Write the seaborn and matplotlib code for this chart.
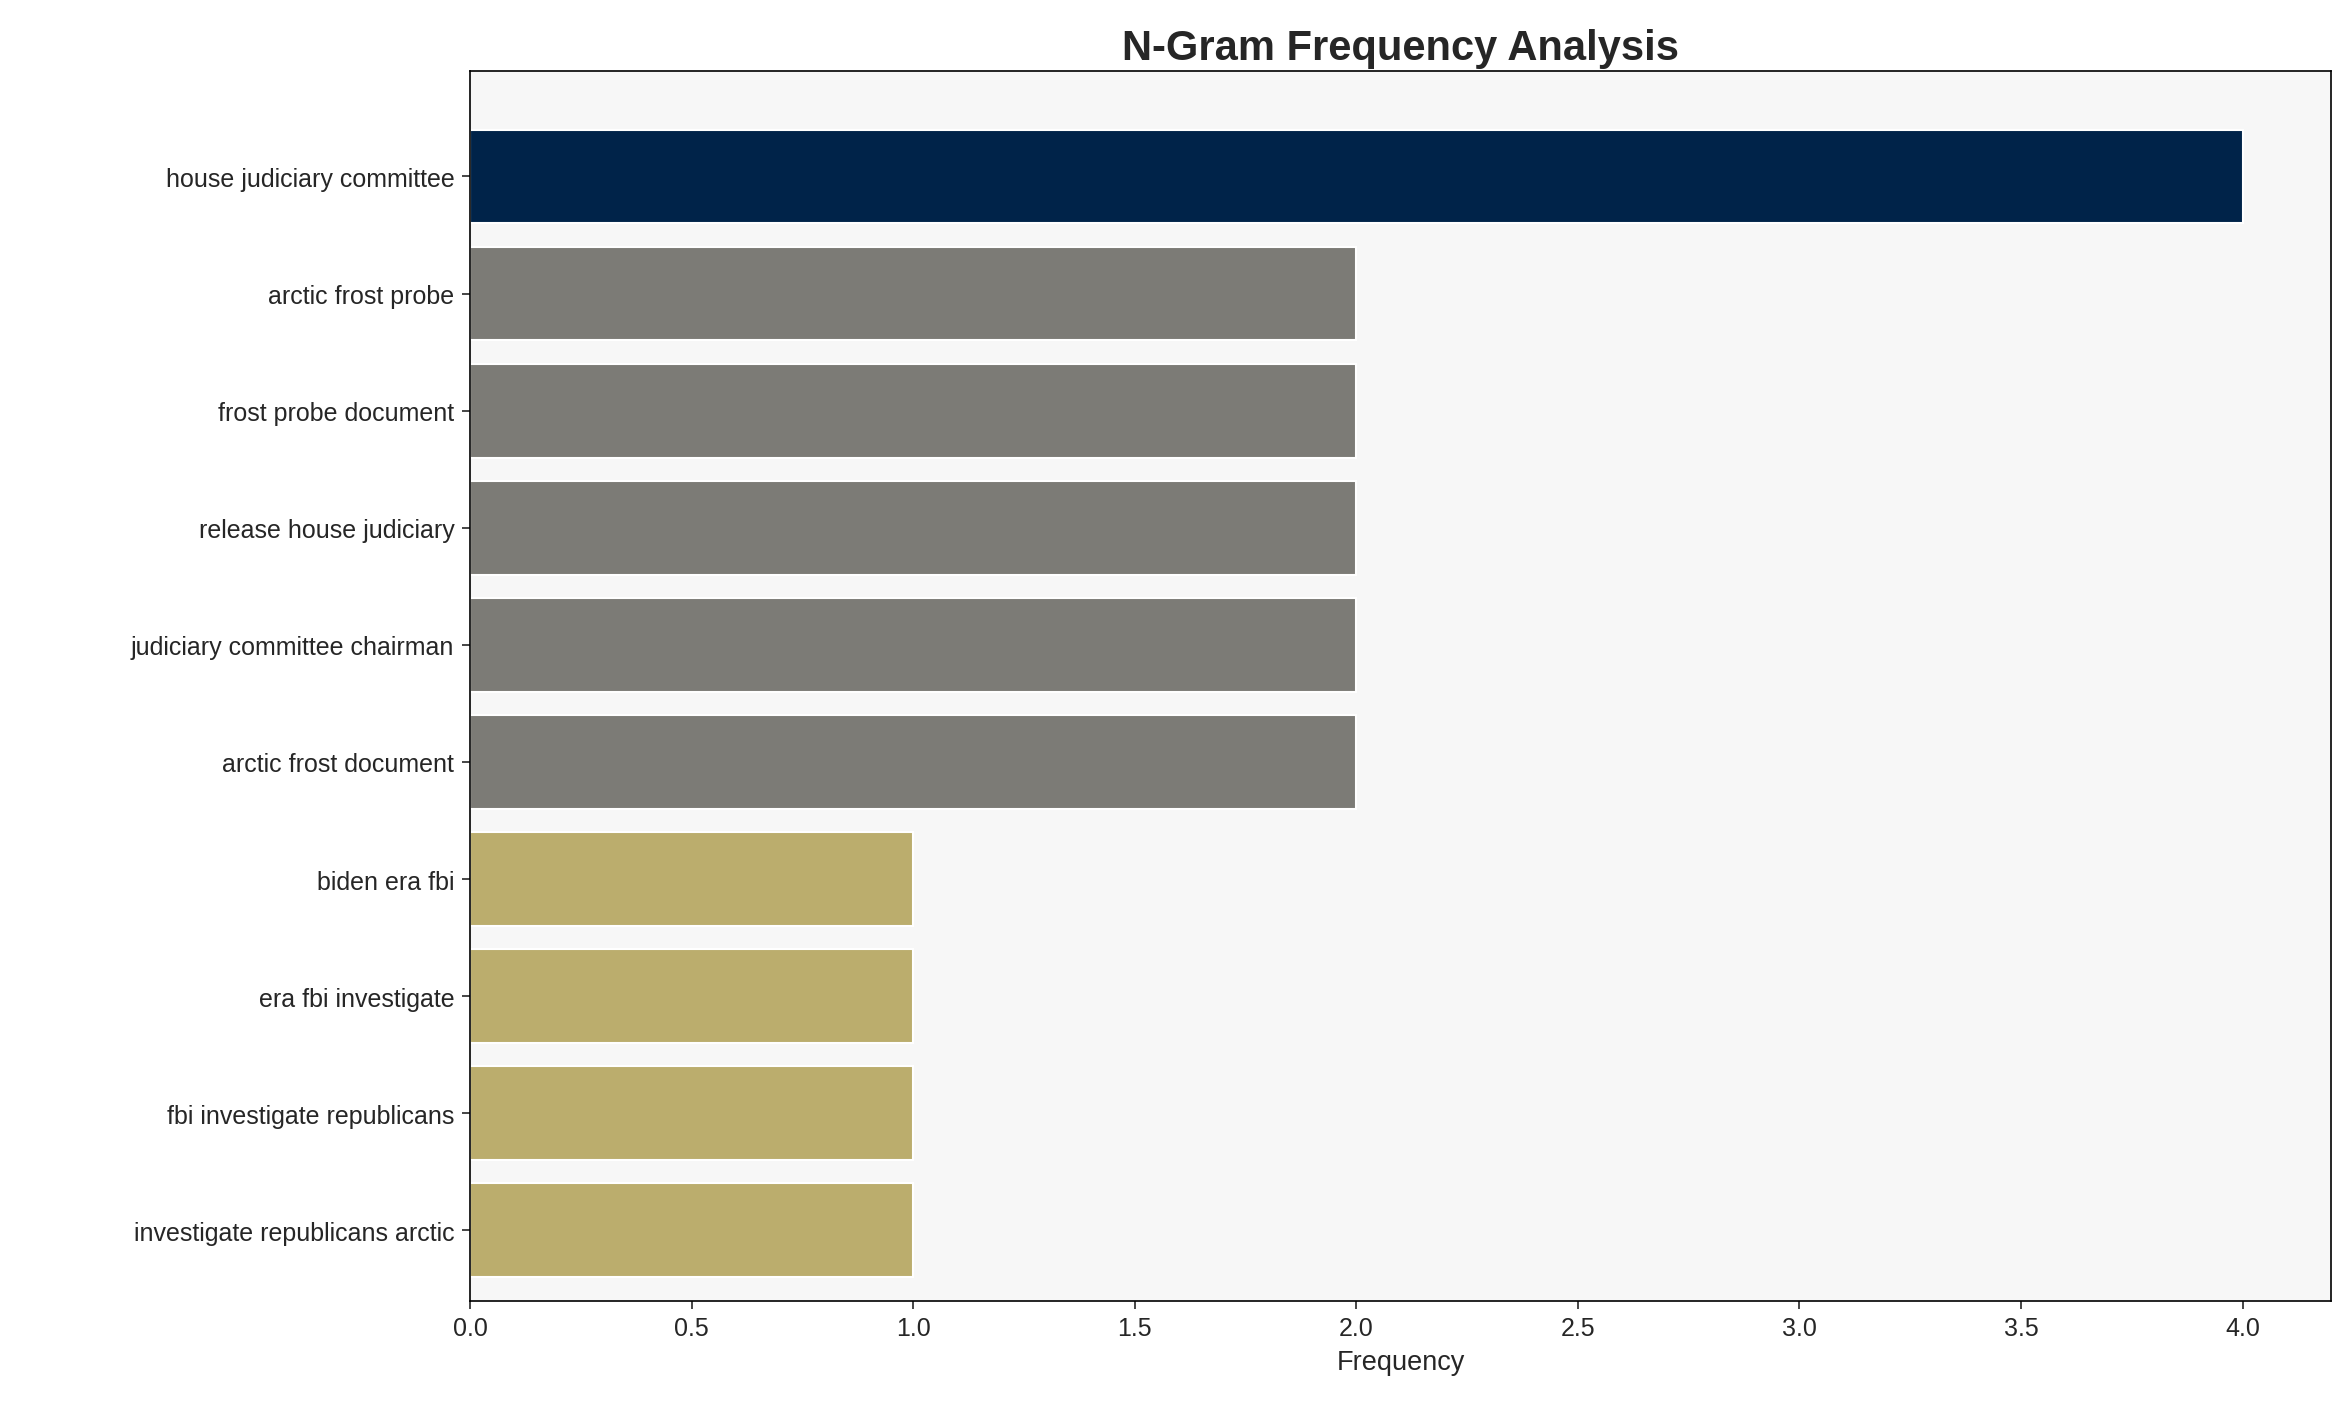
import matplotlib
matplotlib.use("Agg")
import matplotlib.pyplot as plt
import seaborn as sns
import pandas as pd

ngrams = [
    "house judiciary committee", "arctic frost probe", "frost probe document",
    "release house judiciary", "judiciary committee chairman", "arctic frost document",
    "biden era fbi", "era fbi investigate", "fbi investigate republicans",
    "investigate republicans arctic",
]
counts = [4, 2, 2, 2, 2, 2, 1, 1, 1, 1]
palette = {4: "#002349", 2: "#7c7b76", 1: "#bbad6d"}

sns.set_style("white")
plt.rcParams["font.family"] = ["Liberation Sans", "DejaVu Sans"]

df = pd.DataFrame({"ngram": ngrams, "count": counts})
fig, ax = plt.subplots(figsize=(2350 / 150, 1414 / 150), dpi=150)
fig.subplots_adjust(left=0.200, right=0.992, top=0.949, bottom=0.0795)
ax.set_facecolor("#f7f7f7")
sns.barplot(data=df, x="count", y="ngram", hue="count", palette=palette,
            legend=False, width=0.8, ax=ax, saturation=1)
ax.set_xlim(0, 4.2)
ax.set_ylim(len(ngrams) - 0.5 + 0.0, -0.9)
ax.set_ylim(len(ngrams) - 0.4, -0.9)
ax.set_xlabel("Frequency", fontsize=13)
ax.set_ylabel("")
ax.set_title("N-Gram Frequency Analysis", fontsize=20, fontweight="bold", pad=6)
ax.tick_params(axis="both", labelsize=12, left=True, bottom=True, length=4)
for s in ax.spines.values():
    s.set_color("black")
fig.savefig("out.png", dpi=150)
